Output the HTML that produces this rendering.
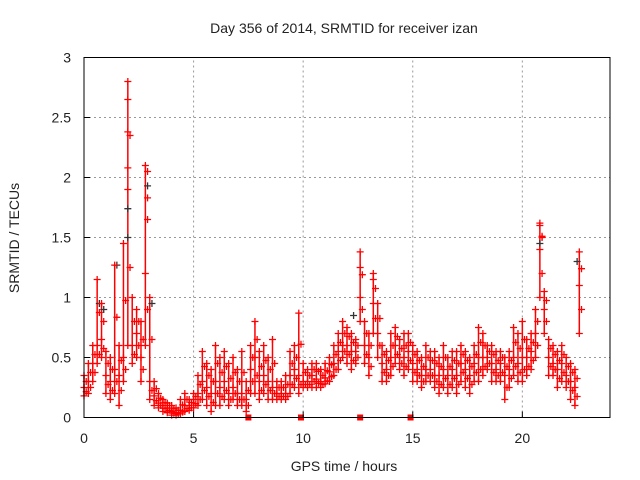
<!DOCTYPE html>
<html><head><meta charset="utf-8"><style>
body{margin:0;background:#fff}
svg{display:block;font-family:"Liberation Sans",sans-serif}
</style></head><body>
<svg id="chart" width="640" height="480">
<text x="344" y="33" font-size="14" text-anchor="middle" fill="#222">Day 356 of 2014, SRMTID for receiver izan</text>
<text transform="translate(19,238) rotate(-90)" font-size="14" text-anchor="middle" fill="#222">SRMTID / TECUs</text>
<text x="344" y="471" font-size="14" text-anchor="middle" fill="#222">GPS time / hours</text>
<g id="grid"></g>
<g id="marks"></g>
<rect x="84" y="57.5" width="526" height="360" fill="none" stroke="#000" stroke-width="1"/>
<g id="ticks"></g>
</svg>
<script>
const xTicks=[0,5,10,15,20];
const yTicks=[0,0.5,1,1.5,2,2.5,3];
const yTickLabels=["0","0.5","1","1.5","2","2.5","3"];
const hours=[0,0.2,0.4,0.6,0.8,1.0,1.2,1.4,1.6,1.8,2.0,2.2,2.4,2.6,2.8,3.0,3.2,3.4,3.6,3.8,4.0,4.2,4.4,4.6,4.8,5.0,5.2,5.4,5.6,5.8,6.0,6.2,6.4,6.6,6.8,7.0,7.2,7.4,7.6,7.8,8.0,8.2,8.4,8.6,8.8,9.0,9.2,9.4,9.6,9.8,10.0,10.2,10.4,10.6,10.8,11.0,11.2,11.4,11.6,11.8,12.0,12.2,12.4,12.6,12.8,13.0,13.2,13.4,13.6,13.8,14.0,14.2,14.4,14.6,14.8,15.0,15.2,15.4,15.6,15.8,16.0,16.2,16.4,16.6,16.8,17.0,17.2,17.4,17.6,17.8,18.0,18.2,18.4,18.6,18.8,19.0,19.2,19.4,19.6,19.8,20.0,20.2,20.4,20.6,20.8,21.0,21.2,21.4,21.6,21.8,22.0,22.2,22.4,22.6];
const lowVals=[.18,.2,.3,.45,.5,.2,.15,.2,.1,.3,.6,.45,.5,.3,.6,.15,.1,.08,.05,.04,.02,.02,.03,.05,.06,.08,.1,.15,.1,.05,.1,.1,.15,.1,.15,.1,.1,.05,.2,.2,.15,.2,.15,.15,.15,.15,.15,.2,.25,.2,.25,.25,.25,.25,.25,.28,.3,.35,.4,.5,.45,.4,.45,.8,.45,.35,.7,.5,.3,.3,.35,.45,.4,.35,.4,.3,.3,.25,.3,.3,.25,.2,.25,.2,.25,.2,.3,.25,.2,.3,.3,.35,.4,.3,.3,.3,.15,.25,.35,.3,.3,.35,.4,.5,1.0,.7,.35,.35,.25,.3,.25,.15,.1,.7];
const midVals=[.25,.3,.45,.6,.65,.35,.3,.4,.35,.5,1.9,.6,.7,.5,1.2,.3,.18,.12,.1,.08,.05,.04,.06,.1,.1,.15,.2,.3,.25,.2,.3,.25,.3,.2,.25,.2,.2,.15,.4,.5,.3,.35,.3,.25,.2,.2,.2,.35,.4,.35,.3,.3,.35,.32,.3,.33,.38,.45,.55,.6,.6,.55,.55,1.0,.6,.5,.95,.7,.45,.4,.5,.6,.5,.5,.55,.45,.4,.35,.4,.4,.35,.35,.4,.35,.4,.35,.45,.4,.35,.45,.5,.5,.5,.45,.4,.45,.35,.4,.5,.45,.5,.5,.55,.7,1.4,.9,.5,.45,.4,.45,.35,.3,.25,1.1];
const highVals=[.35,.45,.6,1.15,.95,.55,.5,1.27,.6,1.45,2.8,1.0,.9,.8,2.1,1.0,.3,.2,.15,.12,.1,.08,.15,.2,.15,.2,.35,.55,.45,.4,.6,.5,.55,.45,.5,.4,.55,.3,.6,.8,.55,.6,.5,.65,.3,.3,.35,.55,.6,.87,.45,.4,.45,.45,.4,.45,.5,.6,.7,.8,.75,.7,.65,1.38,.8,.7,1.2,.95,.6,.55,.7,.75,.65,.7,.7,.6,.55,.5,.6,.55,.55,.5,.6,.5,.55,.55,.6,.55,.5,.6,.75,.7,.6,.6,.55,.55,.5,.55,.75,.7,.8,.65,.7,.9,1.62,1.05,.65,.6,.55,.6,.5,.45,.4,1.38];
const extraRedHours=[2.0,2.0,2.0,2.9,2.9,20.8,20.9,12.6,13.2];
const extraRedVals=[2.65,2.38,2.08,2.05,1.83,1.6,1.5,1.25,1.15];
const blackHours=[0.7,1.5,2.0,2.0,2.9,12.3,20.8,22.5,0.9,3.1];
const blackVals=[0.95,1.27,1.74,1.5,1.93,0.85,1.45,1.3,0.9,0.95];
const zeroHours=[7.5,9.9,12.6,14.9];
const zeroVals=[0,0,0,0];

const X0=84,X1=610,Y0=417.5,Y1=57.5,XMAX=24,YMAX=3;
const sx=v=>X0+(X1-X0)*v/XMAX;
const sy=v=>Y0-(Y0-Y1)*v/YMAX;
const NS='http://www.w3.org/2000/svg';
const grid=document.getElementById('grid'),marks=document.getElementById('marks'),ticks=document.getElementById('ticks');
function mk(tag,attrs,parent){const e=document.createElementNS(NS,tag);for(const k in attrs)e.setAttribute(k,attrs[k]);parent.appendChild(e);return e;}
xTicks.forEach(t=>{
  if(t>0){const g=mk('line',{x1:sx(t),x2:sx(t),y1:Y0,y2:Y1,stroke:'#999','stroke-dasharray':'2,3'},grid);
  
  }
  const a=mk('line',{x1:sx(t),x2:sx(t),y1:Y0,y2:Y0-6,stroke:'#000'},ticks);
  
  
  const l=mk('text',{x:sx(t),y:443,'font-size':14,'text-anchor':'middle',fill:'#222'},ticks);l.textContent=t;
  
  
});
yTicks.forEach((t,i)=>{
  if(t>0&&t<3){const g=mk('line',{x1:X0,x2:X1,y1:sy(t),y2:sy(t),stroke:'#999','stroke-dasharray':'2,3'},grid);
  
  }
  const a=mk('line',{x1:X0,x2:X0+6,y1:sy(t),y2:sy(t),stroke:'#000'},ticks);
  
  
  const l=mk('text',{x:71,y:sy(t)+5,'font-size':14,'text-anchor':'end',fill:'#222'},ticks);l.textContent=yTickLabels[i];
  
  
});
function plus(h,v,color){
  const x=sx(h),y=sy(v);
  const p=mk('path',{d:`M${x-3.5},${y}H${x+3.5}M${x},${y-3.5}V${y+3.5}`,stroke:color,'stroke-width':1.3,fill:'none'},marks);
  
  
}
hours.forEach((h,i)=>{
  const r=mk('line',{x1:sx(h),x2:sx(h),y1:sy(lowVals[i]),y2:sy(highVals[i]),stroke:'#f00','stroke-width':1.5},marks);
  
  
});
blackHours.forEach((h,i)=>plus(h,blackVals[i],'#333'));
hours.forEach((h,i)=>{plus(h,lowVals[i],'#f00');plus(h,midVals[i],'#f00');plus(h,highVals[i],'#f00');
  plus(h+0.1,(lowVals[i]+midVals[i])/2,'#f00');plus(h+0.1,(highVals[i]+midVals[i])/2,'#f00');});
extraRedHours.forEach((h,i)=>plus(h,extraRedVals[i],'#f00'));
zeroHours.forEach((h,i)=>{const r=mk('rect',{x:sx(h)-3,y:sy(zeroVals[i])-3,width:6,height:6,fill:'#f00'},marks);
  
  });
</script>
</body></html>
